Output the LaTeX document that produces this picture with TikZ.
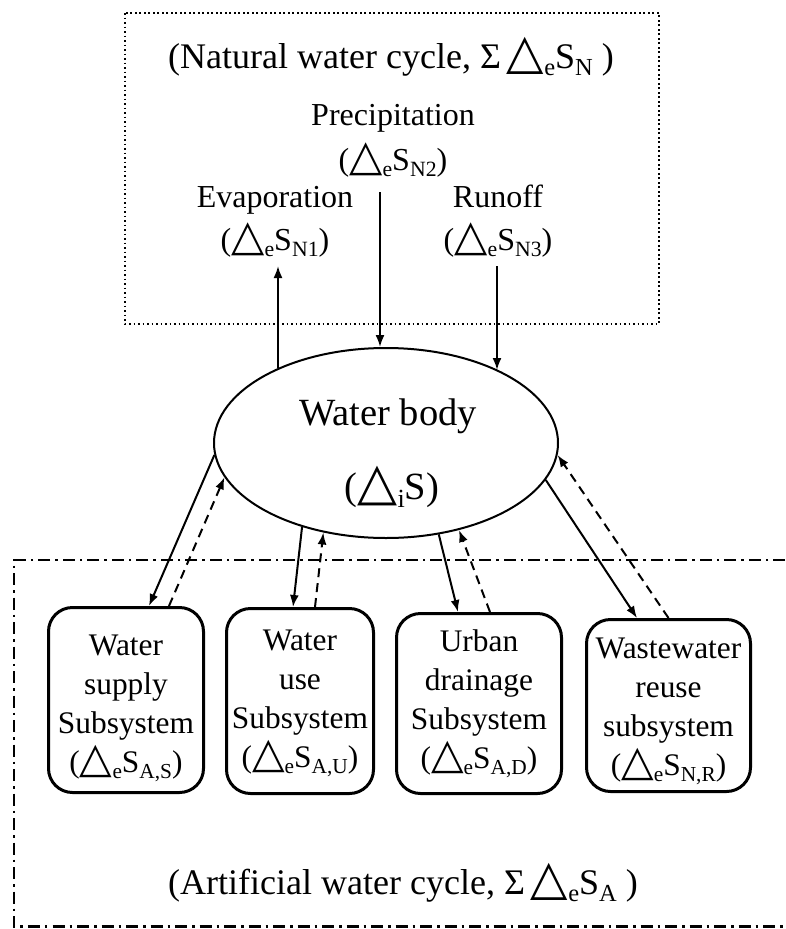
\documentclass[tikz,border=0pt]{standalone}
\usepackage{fontspec}
\setmainfont{Liberation Serif}
\newfontfamily\trifont{DejaVu Sans}[Scale=1.35]
\usetikzlibrary{arrows.meta,shapes.geometric}
\newcommand{\tri}{{\trifont △}}
\newcommand{\sbs}[1]{\raisebox{-0.2em}{\scalebox{0.68}{#1}}}
\begin{document}
\begin{tikzpicture}[x=1pt,y=-1pt,
  lab/.style={font=\fontsize{32}{38}\selectfont, inner sep=0pt, align=center},
  boxtxt/.style={font=\fontsize{31.4}{39}\selectfont, inner sep=0pt, align=center},
  ttl/.style={font=\fontsize{36}{42}\selectfont, inner sep=0pt},
  wbtxt/.style={font=\fontsize{38.5}{44}\selectfont, inner sep=0pt},
  subbox/.style={draw, line width=3pt, rounded corners=24pt, inner sep=0pt},
  arr/.style={line width=2pt, -{Latex[length=12pt,width=9pt]}},
  darr/.style={arr, dash pattern=on 9pt off 6pt},
]
\useasboundingbox (0,0) rectangle (785,929);

% natural water cycle frame
\draw[line width=1.6pt, dash pattern=on 1.6pt off 2.9pt] (125,13) rectangle (659,324);
\node[ttl] (nt) at (391,57) {(Natural water cycle,~Σ\,\tri\sbs{e}S\sbs{N}~)};

\node[lab] (prec) at (393,118) {Precipitation};
\node[lab] (precs) at (393,160) {(\tri\sbs{e}S\sbs{N2})};
\node[lab] (evap) at (275,200) {Evaporation};
\node[lab] (evaps) at (275,240) {(\tri\sbs{e}S\sbs{N1})};
\node[lab] (run) at (498,196) {Runoff};
\node[lab] (runs) at (498,240) {(\tri\sbs{e}S\sbs{N3})};

% water body
\node[draw, ellipse, line width=2pt, minimum width=344pt, minimum height=190pt, inner sep=0pt] (wb) at (386,443) {};
\node[wbtxt] (wbt) at (388,416) {Water body};
\node[wbtxt] (wbs) at (392,487) {(\tri\sbs{i}S)};

\coordinate (evtip) at (278,266);
\coordinate (prtop) at (380,192);
\coordinate (rutop) at (497,266);
\draw[arr] (wb.145.6 -| evtip) -- (evtip);
\draw[arr] (prtop) -- (wb.93.6 -| prtop);
\draw[arr] (rutop) -- (wb.33.3 -| rutop);

% artificial water cycle frame
\draw[line width=2.5pt, dash pattern=on 12pt off 5pt on 2.5pt off 5pt] (785,560) -- (14,560) -- (14,926.5) -- (785,926.5);
\node[ttl] (at) at (403,883) {(Artificial water cycle,~Σ\,\tri\sbs{e}S\sbs{A}~)};

% subsystems
\node[subbox, minimum width=155pt, minimum height=185pt] (b1) at (126,700) {};
\node[boxtxt] (t1) at (126,708) {Water\\supply\\Subsystem\\(\tri\sbs{e}S\sbs{A,S})};
\node[subbox, minimum width=147pt, minimum height=185pt] (b2) at (300,701) {};
\node[boxtxt] (t2) at (300,703) {Water\\use\\Subsystem\\(\tri\sbs{e}S\sbs{A,U})};
\node[subbox, minimum width=165pt, minimum height=180pt] (b3) at (479,703.5) {};
\node[boxtxt] (t3) at (479,704) {Urban\\drainage\\Subsystem\\(\tri\sbs{e}S\sbs{A,D})};
\node[subbox, minimum width=164pt, minimum height=172pt] (b4) at (668.5,705.5) {};
\node[boxtxt] (t4) at (668.5,711) {Wastewater\\reuse\\subsystem\\(\tri\sbs{e}S\sbs{N,R})};

\draw[arr] (wb.184.7) -- ([xshift=23pt]b1.north);
\draw[darr] ([xshift=43pt]b1.north) -- (wb.192.9);
\draw[arr] (wb.225.7) -- ([xshift=-7pt]b2.north);
\draw[darr] ([xshift=15pt]b2.north) -- (wb.235.6);
\draw[arr] (wb.300) -- ([xshift=-21pt]b3.north);
\draw[darr] ([xshift=11pt]b3.north) -- (wb.310.4);
\draw[arr] (wb.347.95) -- ([xshift=-31.5pt]b4.north);
\draw[darr] (b4.north) -- (wb.356.7);
\end{tikzpicture}
\end{document}
